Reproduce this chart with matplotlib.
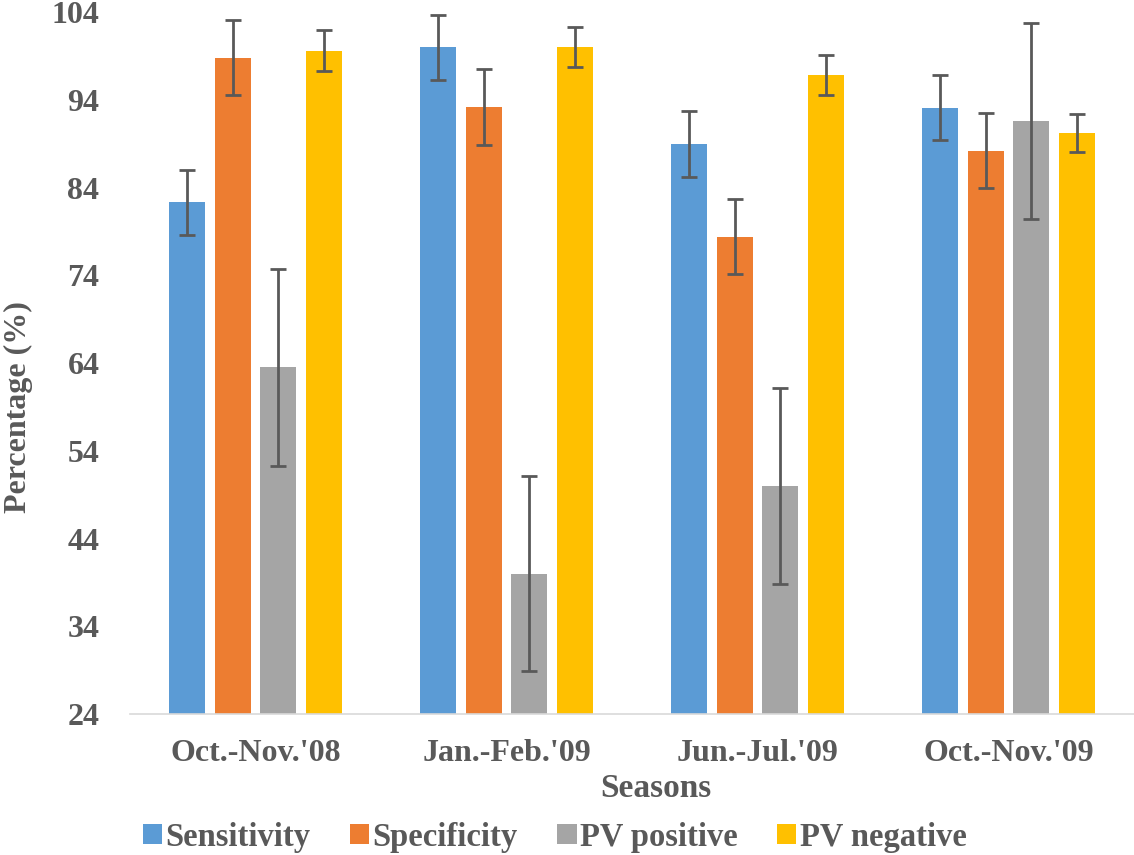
import matplotlib.pyplot as plt
import numpy as np

# data
seasons = ["Oct.-Nov.'08", "Jan.-Feb.'09", "Jun.-Jul.'09", "Oct.-Nov.'09"]
series_names = ['Sensitivity', 'Specificity', 'PV positive', 'PV negative']
sensitivity = [82.3, 100.0, 89.0, 93.1]
specificity = [98.8, 93.2, 78.4, 88.2]
pv_positive = [63.5, 40.0, 50.0, 91.6]
pv_negative = [99.6, 100.0, 96.8, 90.2]
sensitivity_err = [3.75, 3.7, 3.75, 3.7]
specificity_err = [4.3, 4.3, 4.3, 4.3]
pv_positive_err = [11.2, 11.15, 11.15, 11.2]
pv_negative_err = [2.3, 2.25, 2.25, 2.2]
yticks = [24, 34, 44, 54, 64, 74, 84, 94, 104]

values = [sensitivity, specificity, pv_positive, pv_negative]
errors = [sensitivity_err, specificity_err, pv_positive_err, pv_negative_err]
colors = ['#5B9BD5', '#ED7D31', '#A5A5A5', '#FFC000']

plt.rcParams['font.family'] = ['Liberation Serif', 'DejaVu Serif']
plt.rcParams['font.weight'] = 'bold'
text_color = '#595959'

fig = plt.figure(figsize=(11.34, 8.55), dpi=100)
ax = fig.add_axes([0.1146, 0.1649, 0.8854, 0.821])

x = np.arange(len(seasons))
pitch = 0.181
width = 0.143
for i, (vals, errs, name, col) in enumerate(zip(values, errors, series_names, colors)):
    ax.bar(x + (i - 1.5) * pitch, vals, width, color=col, label=name,
           yerr=errs, capsize=6,
           error_kw=dict(ecolor='#595959', elinewidth=2, capthick=2))

ax.set_ylim(24, 104)
ax.set_xlim(-0.5, 3.5)
ax.set_yticks(yticks)
ax.set_xticks(x)
ax.set_xticklabels(seasons)
ax.tick_params(axis='both', length=0, labelsize=23, colors=text_color)
ax.tick_params(axis='y', pad=22)
ax.tick_params(axis='x', pad=18)
for lbl in ax.get_xticklabels() + ax.get_yticklabels():
    lbl.set_fontweight('bold')

for s in ['top', 'right', 'left']:
    ax.spines[s].set_visible(False)
ax.spines['bottom'].set_color('#D9D9D9')
ax.spines['bottom'].set_linewidth(1.2)

ax.set_ylabel('Percentage (%)', fontsize=23, fontweight='bold', color=text_color,
              ha='center', va='center')
ax.yaxis.set_label_coords(-0.111, 0.437)
ax.set_xlabel('Seasons', fontsize=24, fontweight='bold', color=text_color,
              ha='center', va='center')
ax.xaxis.set_label_coords(0.524, -0.106)

leg = fig.legend(loc='center', bbox_to_anchor=(0.489, 0.021), ncol=4, frameon=False,
                 fontsize=23.5, handlelength=0.6, handleheight=0.6, handletextpad=0.1,
                 columnspacing=1.2, borderpad=0)
for t in leg.get_texts():
    t.set_color(text_color)
    t.set_fontweight('bold')

fig.savefig('out.png', dpi=100)
